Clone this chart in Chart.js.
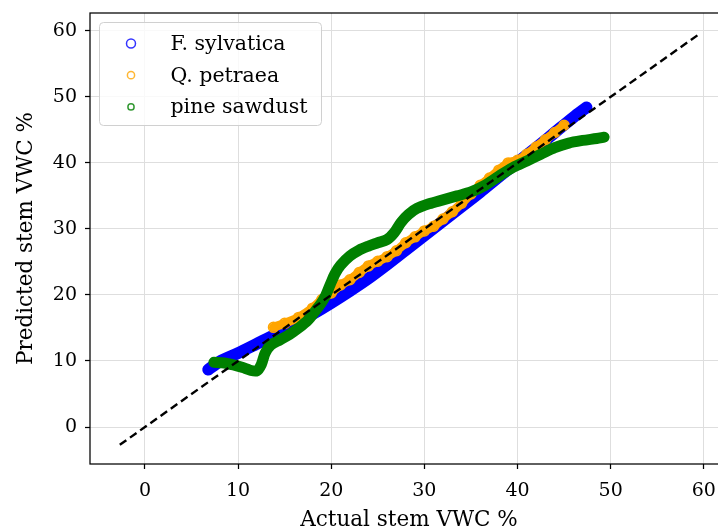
<!DOCTYPE html>
<html><head><meta charset="utf-8">
<script src="https://cdn.jsdelivr.net/npm/chart.js@4.4.0/dist/chart.umd.min.js"></script>
<style>
html,body{margin:0;padding:0;overflow:hidden;background:#fff;width:718px;height:530px}
#wrap{width:718px;height:530px;overflow:hidden;position:relative}
canvas{display:block}
</style></head>
<body><div id="wrap"><canvas id="c" width="740" height="530" style="width:740px;height:530px"></canvas></div>
<script>
const seriesNames = ['F. sylvatica', 'Q. petraea', 'pine sawdust'];
const xTicks = [0, 10, 20, 30, 40, 50, 60];
const yTicks = [0, 10, 20, 30, 40, 50, 60];

const sylvaticaX = [6.8, 8, 10, 12, 14, 16, 18, 20, 22, 24, 26, 28, 30, 32, 34, 36, 38, 40, 42, 44, 46, 47.4];
const sylvaticaY = [8.7, 9.9, 11.2, 12.6, 14.0, 15.5, 17.1, 18.8, 20.6, 22.5, 24.6, 26.8, 29.0, 31.2, 33.4, 35.6, 37.9, 40.1, 42.3, 44.6, 46.9, 48.4];

const petraeaX = [13.8, 15, 16.5, 18, 19, 20, 21, 22, 23, 24, 25, 26, 27, 28, 29, 30, 31, 32, 33, 34, 35, 36, 37, 38, 39, 40, 41, 42, 43, 44, 45];
const petraeaY = [15.1, 15.7, 16.6, 18.0, 19.3, 20.3, 21.5, 22.3, 23.4, 24.4, 25.1, 25.8, 26.7, 27.9, 28.8, 29.7, 30.4, 31.5, 32.6, 33.9, 35.3, 36.6, 37.7, 38.9, 40.0, 40.4, 41.3, 42.4, 43.5, 44.6, 45.7];

const sawdustX = [7.4, 8.5, 9.5, 10.5, 11.3, 12, 12.5, 12.9, 13.5, 14.5, 15.5, 16.5, 17.5, 18.3, 18.9, 19.4, 19.9, 20.4, 21, 22, 23, 24, 25, 26, 26.8, 27.5, 28.3, 29.2, 30.5, 32, 33.5, 35, 36.5, 38, 39.5, 41, 42.5, 44, 45.5, 47, 48.5, 49.3];
const sawdustY = [9.8, 9.7, 9.4, 9.0, 8.6, 8.5, 9.5, 11.2, 12.4, 13.2, 14.0, 15.0, 16.2, 17.6, 18.7, 19.9, 21.6, 23.2, 24.5, 25.9, 26.8, 27.4, 27.9, 28.4, 29.5, 31.0, 32.2, 33.1, 33.8, 34.4, 35.0, 35.6, 36.6, 38.0, 39.3, 40.3, 41.3, 42.3, 43.0, 43.4, 43.7, 43.9];

const identityX = [-2.7, 59.5];
const identityY = [-2.7, 59.5];

const colors = ['#0000ff', '#ffa500', '#008000'];
const legendRadius = [4.5, 3.6, 3.1];

const pts = (xs, ys) => xs.map((x, i) => ({x: x, y: ys[i]}));
const FONT = 'DejaVu Serif';

const frame = {
  id: 'frame',
  afterDatasetsDraw(chart) {
    const ctx = chart.ctx, a = chart.chartArea;
    ctx.save();
    ctx.strokeStyle = '#000';
    ctx.lineWidth = 1.25;
    ctx.strokeRect(a.left, a.top, a.right - a.left, a.bottom - a.top);
    ctx.restore();
  }
};

const insideLegend = {
  id: 'insideLegend',
  afterDraw(chart) {
    const ctx = chart.ctx, a = chart.chartArea;
    const x0 = a.left + 9.5, y0 = a.top + 9.5, w = 222, h = 103, r = 4;
    ctx.save();
    ctx.beginPath();
    ctx.moveTo(x0 + r, y0);
    ctx.lineTo(x0 + w - r, y0);
    ctx.arcTo(x0 + w, y0, x0 + w, y0 + r, r);
    ctx.lineTo(x0 + w, y0 + h - r);
    ctx.arcTo(x0 + w, y0 + h, x0 + w - r, y0 + h, r);
    ctx.lineTo(x0 + r, y0 + h);
    ctx.arcTo(x0, y0 + h, x0, y0 + h - r, r);
    ctx.lineTo(x0, y0 + r);
    ctx.arcTo(x0, y0, x0 + r, y0, r);
    ctx.closePath();
    ctx.fillStyle = 'rgba(255,255,255,0.8)';
    ctx.fill();
    ctx.strokeStyle = '#d0d0d0';
    ctx.lineWidth = 1;
    ctx.stroke();
    seriesNames.forEach((name, i) => {
      const cy = y0 + 21 + i * 31.7;
      ctx.beginPath();
      ctx.arc(x0 + 31.5, cy, legendRadius[i], 0, Math.PI * 2);
      ctx.strokeStyle = colors[i];
      ctx.globalAlpha = 0.8;
      ctx.lineWidth = 1.5;
      ctx.stroke();
      ctx.globalAlpha = 1;
      ctx.fillStyle = '#000';
      ctx.font = '20.5px "' + FONT + '"';
      ctx.textBaseline = 'middle';
      ctx.textAlign = 'left';
      ctx.fillText(name, x0 + 71, cy + 1);
    });
    ctx.restore();
  }
};

new Chart(document.getElementById('c'), {
  type: 'scatter',
  data: {
    datasets: [
      {label: seriesNames[0], data: pts(sylvaticaX, sylvaticaY), showLine: true, order: 3,
       borderColor: colors[0], borderWidth: 12, borderCapStyle: 'round', borderJoinStyle: 'round',
       tension: 0.3, pointRadius: 0},
      {label: seriesNames[1], data: pts(petraeaX, petraeaY), showLine: true, order: 2,
       borderColor: colors[1], borderWidth: 9, borderCapStyle: 'round', borderJoinStyle: 'round',
       tension: 0.3, pointRadius: 5, pointBorderWidth: 1.5, pointBorderColor: colors[1],
       pointBackgroundColor: 'rgba(0,0,0,0)'},
      {label: seriesNames[2], data: pts(sawdustX, sawdustY), showLine: true, order: 1,
       borderColor: colors[2], borderWidth: 11, borderCapStyle: 'round', borderJoinStyle: 'round',
       tension: 0.3, pointRadius: 0},
      {label: 'identity', data: pts(identityX, identityY), showLine: true, order: 0,
       borderColor: '#000', borderWidth: 2.4, borderDash: [8, 4.5], pointRadius: 0}
    ]
  },
  options: {
    responsive: false,
    devicePixelRatio: 1,
    animation: false,
    events: [],
    layout: {padding: {left: 0, right: 12, top: 13, bottom: 0}},
    plugins: {legend: {display: false}, tooltip: {enabled: false}},
    scales: {
      x: {
        type: 'linear', min: -5.9, max: 62.6,
        afterBuildTicks: s => { s.ticks = xTicks.map(v => ({value: v})); },
        afterFit: s => { s.height = 66; s.paddingLeft = 0; s.paddingRight = 0; },
        grid: {color: '#dedede', lineWidth: 1, tickColor: '#000', tickWidth: 1.25, tickLength: 5},
        border: {display: false},
        ticks: {color: '#000', font: {family: FONT, size: 19}, padding: 11, maxRotation: 0, autoSkip: false},
        title: {display: true, text: 'Actual stem VWC %', color: '#000', font: {family: FONT, size: 21.5}, padding: {top: 0, bottom: -3}}
      },
      y: {
        type: 'linear', min: -5.6, max: 62.7,
        afterBuildTicks: s => { s.ticks = yTicks.map(v => ({value: v})); },
        afterFit: s => { s.width = 90; s.paddingTop = 0; s.paddingBottom = 0; },
        grid: {color: '#dedede', lineWidth: 1, tickColor: '#000', tickWidth: 1.25, tickLength: 5},
        border: {display: false},
        ticks: {color: '#000', font: {family: FONT, size: 19}, padding: 8, autoSkip: false},
        title: {display: true, text: 'Predicted stem VWC %', color: '#000', font: {family: FONT, size: 21.5}, padding: {top: 14, bottom: 0}}
      }
    }
  },
  plugins: [frame, insideLegend]
});
</script>
</body></html>
